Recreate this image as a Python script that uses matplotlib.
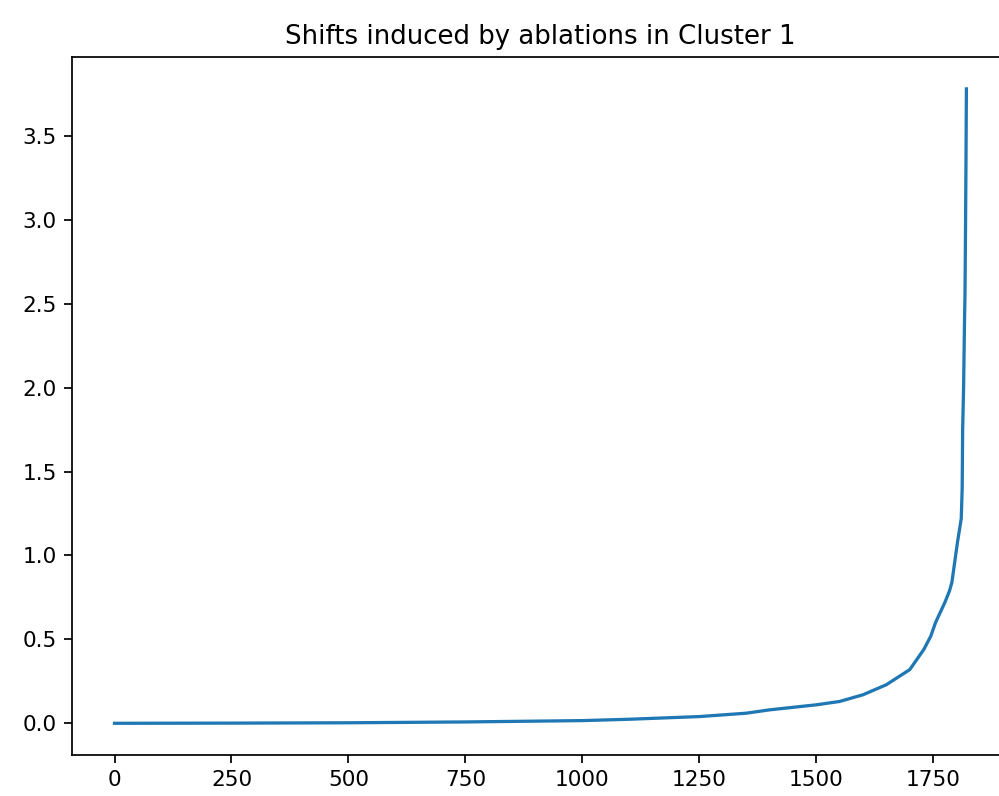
import matplotlib
matplotlib.use("Agg")
import matplotlib.pyplot as plt

# sorted shift values at selected ranks
rank = [0, 250, 500, 750, 1000, 1100, 1250, 1350, 1400, 1500, 1550, 1600, 1650, 1700,
        1730, 1745, 1755, 1765, 1775, 1785, 1790, 1798, 1802, 1806, 1810, 1812,
        1813, 1815, 1817, 1818, 1819, 1820, 1821]
shift = [0.0, 0.001, 0.003, 0.008, 0.016, 0.024, 0.04, 0.06, 0.08, 0.11, 0.13, 0.17,
         0.23, 0.32, 0.44, 0.52, 0.60, 0.66, 0.72, 0.79, 0.84, 1.00, 1.08, 1.15, 1.22,
         1.40, 1.75, 2.00, 2.40, 2.55, 2.90, 3.30, 3.78]

s = 1.56  # scale relative to default matplotlib sizes
plt.rcParams.update({
    "font.size": 10 * s,
    "axes.titlesize": 12 * s,
    "axes.linewidth": 0.8 * s,
    "xtick.major.size": 3.5 * s,
    "ytick.major.size": 3.5 * s,
    "xtick.major.width": 0.8 * s,
    "ytick.major.width": 0.8 * s,
    "xtick.major.pad": 3.5 * s,
    "ytick.major.pad": 3.5 * s,
})

fig = plt.figure(figsize=(9.99, 7.96), dpi=100)
# the reference is cropped on the right, so the axes run past the figure edge
ax = fig.add_axes([0.072, 0.0515, 0.938, 0.8767])
ax.plot(rank, shift, color="#1f77b4", linewidth=1.5 * s)
ax.set_title("Shifts induced by ablations in Cluster 1", pad=6 * s)
ax.set_xticks([0, 250, 500, 750, 1000, 1250, 1500, 1750])
ax.set_yticks([0.0, 0.5, 1.0, 1.5, 2.0, 2.5, 3.0, 3.5])
ax.spines["right"].set_visible(False)

fig.savefig("out.png", dpi=100)
